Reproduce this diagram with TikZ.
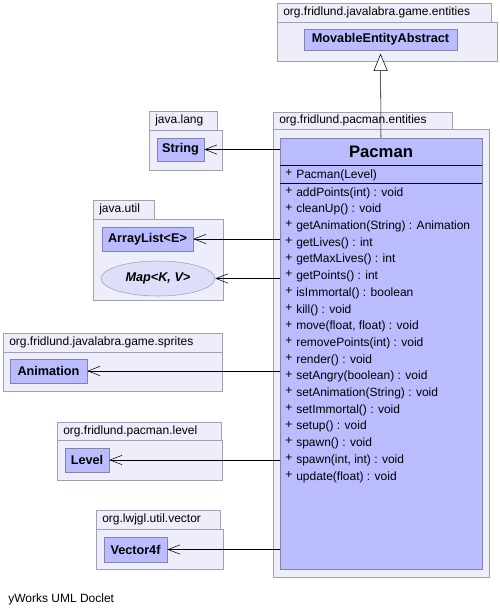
\documentclass[tikz,border=0pt]{standalone}
\usepackage{fontspec}
\setmainfont{Liberation Sans}
\usepackage{tikz}
\usetikzlibrary{arrows.meta, shapes.geometric}
\definecolor{pkgfill}{HTML}{EEEEFB}
\definecolor{pkgstroke}{HTML}{A0A0B4}
\definecolor{clsfill}{HTML}{BBBBFF}
\definecolor{clsstroke}{HTML}{8484A8}
\definecolor{ifacefill}{HTML}{DEDEFB}

\begin{document}
\begin{tikzpicture}[x=0.75pt, y=-0.75pt,
  pkg/.style={fill=pkgfill, draw=pkgstroke},
  pkgname/.style={anchor=west, inner sep=0pt, font=\fontsize{9}{11}\selectfont},
  cls/.style={fill=clsfill, draw=clsstroke, inner sep=0pt, font=\fontsize{9.5}{11}\selectfont\bfseries},
  boxsize/.style 2 args={minimum width=#1*0.75pt, minimum height=#2*0.75pt},
  member/.style={anchor=west, inner sep=0pt, font=\fontsize{9}{11}\selectfont},
  dep/.style={-{Straight Barb[length=9pt, width=7pt]}},
  inherit/.style={-{Triangle[open, fill=white, length=13pt, width=10.5pt]}}]
  \useasboundingbox (0,0) rectangle (500,615);

  % org.fridlund.javalabra.game.entities
  \draw[pkg] (277,22) rectangle (497,61);
  \draw[pkg] (277,3) rectangle (491,22);
  \node[pkgname] (pkgGame) at (283,12.5) {org.fridlund.javalabra.game.entities};
  \node[cls, boxsize={153}{21}] (movable) at (380.5,39.5) {MovableEntityAbstract};

  % java.lang
  \draw[pkg] (149,130) rectangle (222,170);
  \draw[pkg] (149,111) rectangle (217,130);
  \node[pkgname] (pkgLang) at (155,120.5) {java.lang};
  \node[cls, boxsize={47}{23}] (string) at (180.5,149.5) {String};

  % org.fridlund.pacman.entities
  \draw[pkg] (273,129) rectangle (489,577);
  \draw[pkg] (273,112) rectangle (452,129);
  \node[pkgname] (pkgEntities) at (279,120.5) {org.fridlund.pacman.entities};
  \node[cls, boxsize={202}{431}] (pacman) at (381,353.5) {};
  \node[font=\fontsize{12.5}{15}\selectfont\bfseries] (pacmanTitle) at (381,152) {Pacman};
  \draw[black] (280,165) -- (482,165);
  \draw[black] (280,183) -- (482,183);
  \node[member] (ctorPlus) at (285,173) {+};
  \node[member] (ctor) at (296,175) {Pacman(Level)};
  \foreach \m [count=\i from 0] in {addPoints(int) : void, cleanUp() : void,
      getAnimation(String) : Animation, getLives() : int, getMaxLives() : int,
      getPoints() : int, isImmortal() : boolean, kill() : void,
      {move(float, float) : void}, removePoints(int) : void, render() : void,
      setAngry(boolean) : void, setAnimation(String) : void,
      setImmortal() : void, setup() : void, spawn() : void,
      {spawn(int, int) : void}, update(float) : void} {
    \node[member] (plus\i) at (285,191+16.7*\i) {+};
    \node[member] (method\i) at (296,193+16.7*\i) {\m};
  }

  % java.util
  \draw[pkg] (93,219) rectangle (223,300);
  \draw[pkg] (93,200) rectangle (154,219);
  \node[pkgname] (pkgUtil) at (99,209.5) {java.util};
  \node[cls, boxsize={91}{24}] (arraylist) at (147.5,239) {ArrayList<E>};
  \node[ellipse, fill=ifacefill, draw=pkgstroke, inner sep=0pt, boxsize={114}{35},
    font=\fontsize{9.5}{11}\selectfont\bfseries\itshape] (map) at (158,278.5) {Map<K, V>};

  % org.fridlund.javalabra.game.sprites
  \draw[pkg] (3,352) rectangle (222,391);
  \draw[pkg] (3,333) rectangle (222,352);
  \node[pkgname] (pkgSprites) at (9,342.5) {org.fridlund.javalabra.game.sprites};
  \node[cls, boxsize={77}{24}] (animation) at (48.5,371) {Animation};

  % org.fridlund.pacman.level
  \draw[pkg] (57,440) rectangle (222,480);
  \draw[pkg] (57,422) rectangle (221,440);
  \node[pkgname] (pkgLevel) at (63,431) {org.fridlund.pacman.level};
  \node[cls, boxsize={44}{24}] (level) at (87,460) {Level};

  % org.lwjgl.util.vector
  \draw[pkg] (96,529) rectangle (223,569);
  \draw[pkg] (96,510) rectangle (220,529);
  \node[pkgname] (pkgVector) at (102,519.5) {org.lwjgl.util.vector};
  \node[cls, boxsize={63}{25}] (vector) at (135.5,549.5) {Vector4f};

  % relations
  \draw[inherit] (pacman.north) -- ([yshift=-2.5pt]movable.south);
  \foreach \t in {string, arraylist, map, animation, level, vector}
    \draw[dep] (pacman.west |- \t.east) -- (\t.east);

  \node[anchor=west, inner sep=0pt, font=\fontsize{9}{11}\selectfont] (footer) at (8,599) {yWorks UML Doclet};
\end{tikzpicture}
\end{document}
